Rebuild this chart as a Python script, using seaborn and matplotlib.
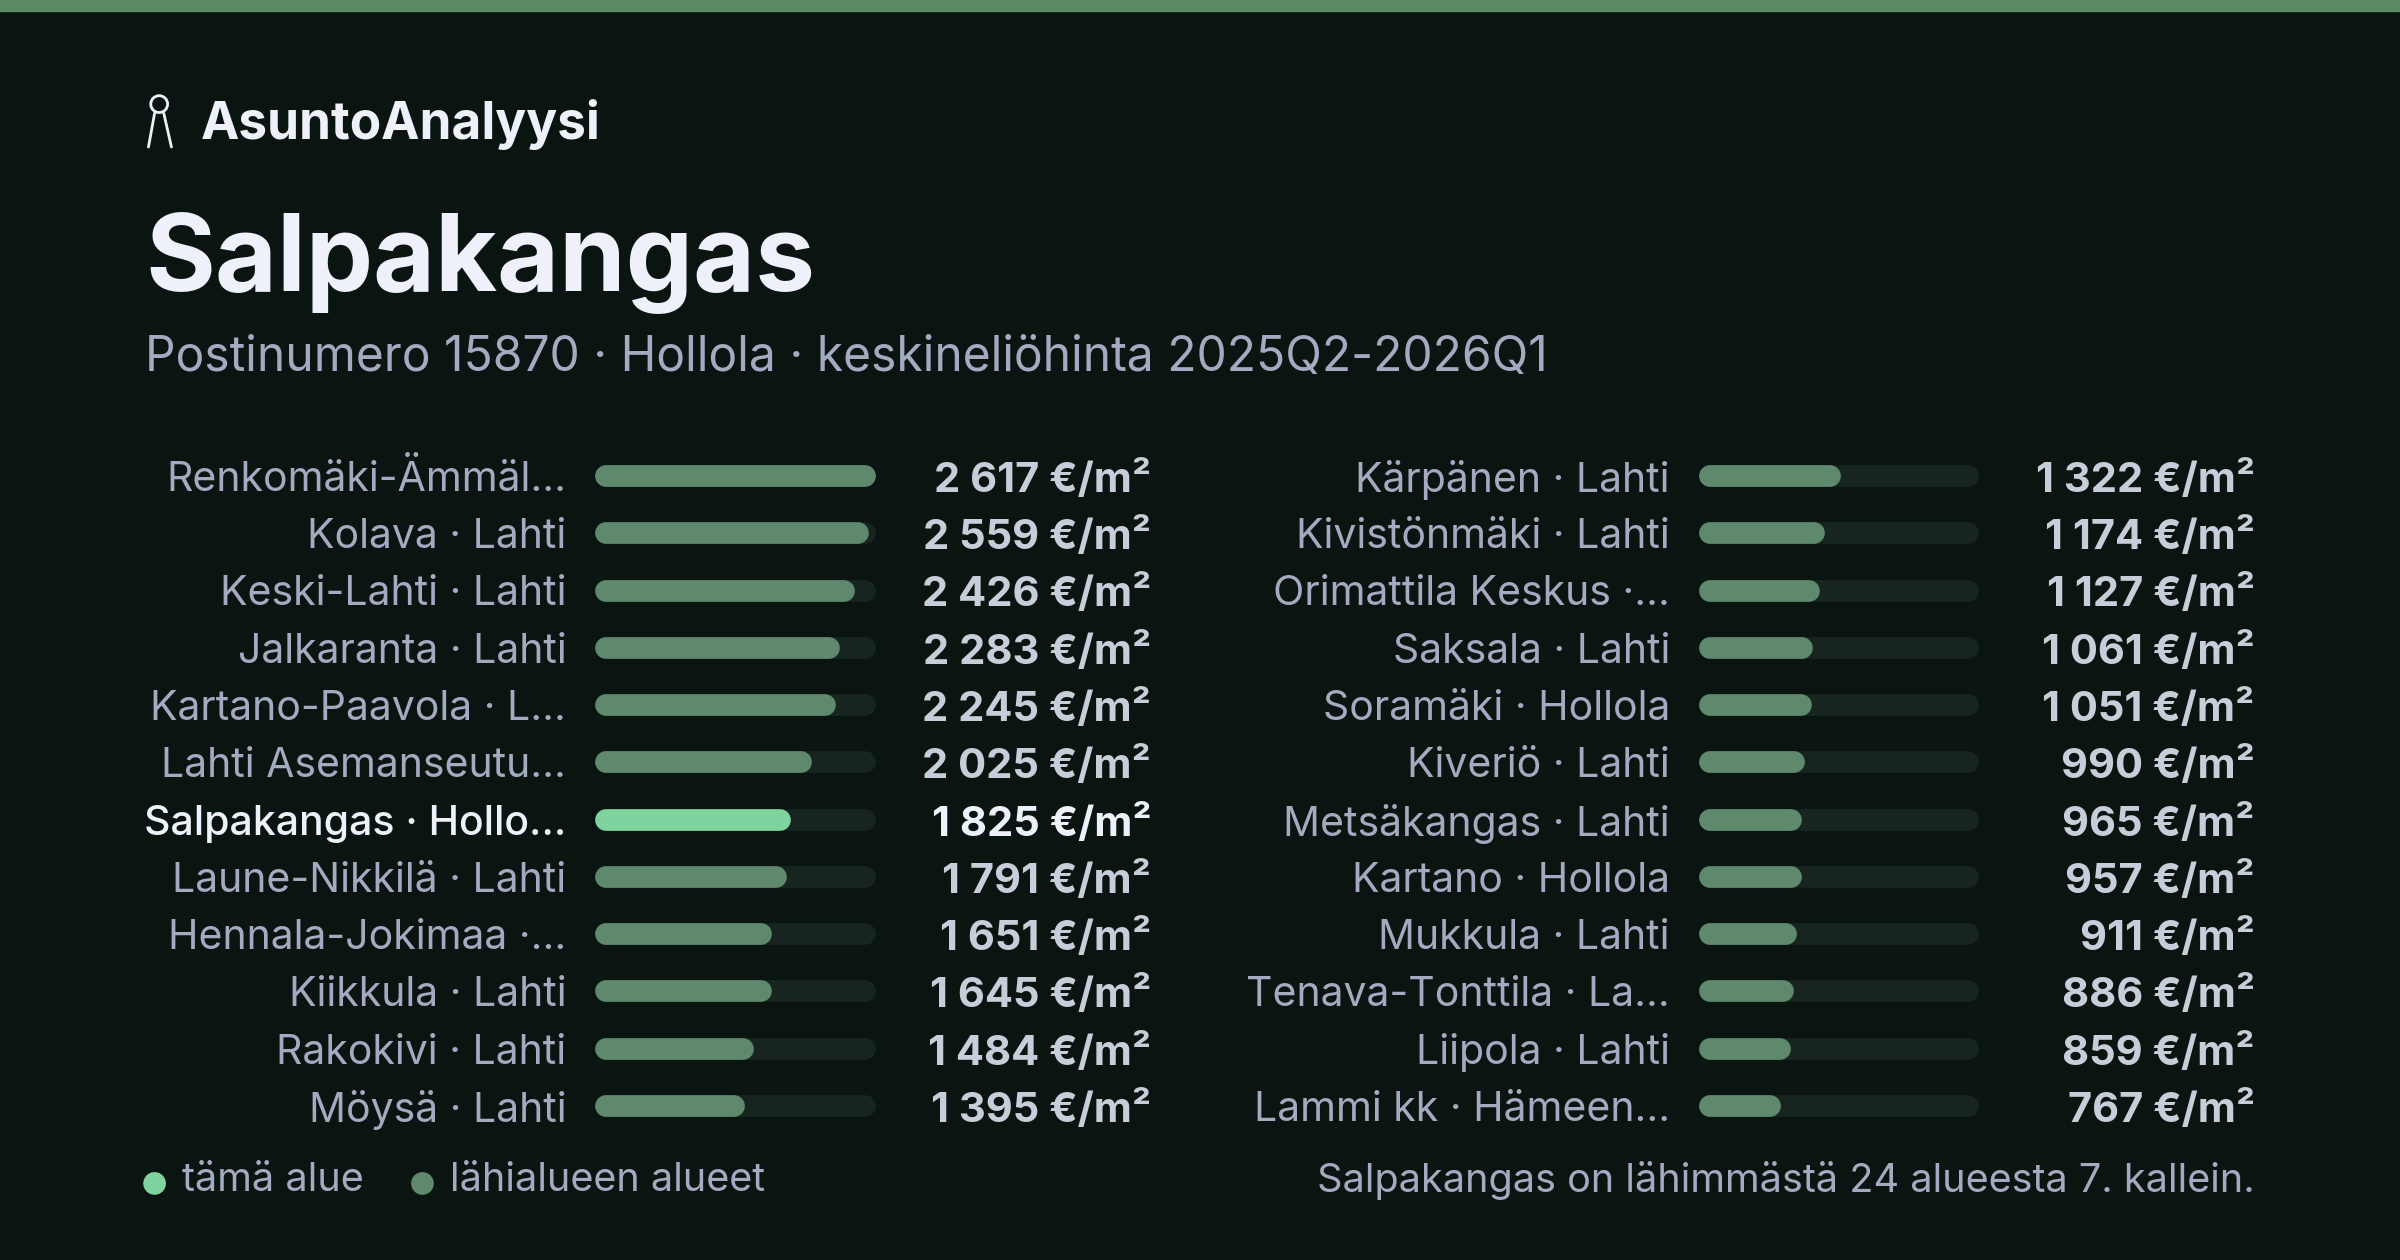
import matplotlib
matplotlib.use("Agg")
import matplotlib.pyplot as plt
import matplotlib.transforms as mtransforms
from matplotlib.patches import Ellipse, Rectangle
import seaborn as sns
import pandas as pd

sns.set_theme(style="dark")
plt.rcParams['font.family'] = ['Inter', 'DejaVu Sans']

left_labels = ["Renkomäki-Ämmäl…", "Kolava · Lahti", "Keski-Lahti · Lahti", "Jalkaranta · Lahti",
               "Kartano-Paavola · L…", "Lahti Asemanseutu…", "Salpakangas · Hollo…", "Laune-Nikkilä · Lahti",
               "Hennala-Jokimaa ·…", "Kiikkula · Lahti", "Rakokivi · Lahti", "Möysä · Lahti"]
left_values = [2617, 2559, 2426, 2283, 2245, 2025, 1825, 1791, 1651, 1645, 1484, 1395]
right_labels = ["Kärpänen · Lahti", "Kivistönmäki · Lahti", "Orimattila Keskus ·…", "Saksala · Lahti",
                "Soramäki · Hollola", "Kiveriö · Lahti", "Metsäkangas · Lahti", "Kartano · Hollola",
                "Mukkula · Lahti", "Tenava-Tonttila · La…", "Liipola · Lahti", "Lammi kk · Hämeen…"]
right_values = [1322, 1174, 1127, 1061, 1051, 990, 965, 957, 911, 886, 859, 767]
highlight = "Salpakangas · Hollo…"
scale_max = 2617

BG = "#0a1512"
BAR = "#5f896d"
HI = "#7fd39f"
TRACK = "#17241f"
LBL = "#a3abc0"
VAL = "#c9cdd9"
WHITE = "#eef0fa"

W, H = 1568, 823
fig = plt.figure(figsize=(24, 12.6), dpi=100, facecolor=BG)

def fx(x): return x / W
def fy(y): return 1 - y / H

def dot(x, y, rpx, color, fill=True, lw=2):
    fig.patches.append(Ellipse((fx(x), fy(y)), 2 * rpx / W, 2 * rpx / H, transform=fig.transFigure,
                               fill=fill, fc=color if fill else "none", ec=color, lw=lw))

fig.patches.append(Rectangle((0, fy(7)), 1, 7 / H, transform=fig.transFigure, color="#5a8a63"))

dot(104, 68, 5.5, WHITE, fill=False, lw=2)
fig.lines.append(plt.Line2D([fx(101), fx(97)], [fy(74), fy(96)], transform=fig.transFigure, color=WHITE, lw=2))
fig.lines.append(plt.Line2D([fx(107), fx(112)], [fy(74), fy(96)], transform=fig.transFigure, color=WHITE, lw=2))
fig.text(fx(131), fy(81), "AsuntoAnalyysi", fontsize=37, fontweight="bold", color=WHITE, va="center")
fig.text(fx(95), fy(172), "Salpakangas", fontsize=77, fontweight="bold", color=WHITE, va="center")
fig.text(fx(95), fy(234), "Postinumero 15870 · Hollola · keskineliöhinta 2025Q2-2026Q1",
         fontsize=34.5, color=LBL, va="center")

row0, step = 311, 37.4
n = 12

def column(x0, x1, labels, values, valx):
    ax = fig.add_axes([fx(x0), fy(row0 + step * (n - 0.5)), fx(x1) - fx(x0), step * n / H])
    ax.set_facecolor("none")
    df = pd.DataFrame({"label": labels, "value": values, "track": [scale_max] * n})
    sns.barplot(data=df, y="label", x="track", orient="h", color=TRACK, ax=ax, width=0.4)
    sns.barplot(data=df, y="label", x="value", orient="h", color=BAR, ax=ax, width=0.4)
    ax.set_xlim(0, scale_max)
    ax.set_ylim(n - 0.5, -0.5)
    fig.canvas.draw()
    pix_per_x = ax.transData.transform((1, 0))[0] - ax.transData.transform((0, 0))[0]
    lw_px = 0.38 * step * 2400 / W
    r = (lw_px / 2) / pix_per_x
    lw_pt = lw_px * 72 / fig.dpi
    patches = list(ax.patches)
    for i, p in enumerate(patches):
        x, w, y, h = p.get_x(), p.get_width(), p.get_y(), p.get_height()
        is_track = i < n
        lab = labels[i % n]
        col = TRACK if is_track else (HI if lab == highlight else BAR)
        ax.plot([x + r, x + w - r], [y + h / 2] * 2, color=col, lw=lw_pt,
                solid_capstyle="round", zorder=2 if is_track else 3)
        p.remove()
    trans = mtransforms.blended_transform_factory(ax.transAxes, ax.transData)
    off = 2.5 / step
    for i, (lab, v) in enumerate(zip(labels, values)):
        hi = lab == highlight
        ax.text((-19) / (x1 - x0), i + off, lab, transform=trans, ha="right", va="center",
                fontsize=29.5, color=WHITE if hi else LBL, fontweight="medium" if hi else "normal")
        ax.text((valx - x0) / (x1 - x0), i + off, f"{v:,}".replace(",", " ") + " €/m²",
                transform=trans, ha="right", va="center", fontsize=30, fontweight="bold",
                color=WHITE if hi else VAL)
    ax.set_axis_off()

column(389, 572, left_labels, left_values, 752)
column(1110, 1293, right_labels, right_values, 1473)

dot(101, 773, 6.5, HI)
fig.text(fx(119), fy(771), "tämä alue", fontsize=28.5, color=LBL, va="center")
dot(276, 773, 6.5, BAR)
fig.text(fx(294), fy(771), "lähialueen alueet", fontsize=28.5, color=LBL, va="center")
fig.text(fx(1473), fy(771), "Salpakangas on lähimmästä 24 alueesta 7. kallein.",
         fontsize=28.5, color=LBL, va="center", ha="right")

fig.savefig("out.png", dpi=100, facecolor=BG)
